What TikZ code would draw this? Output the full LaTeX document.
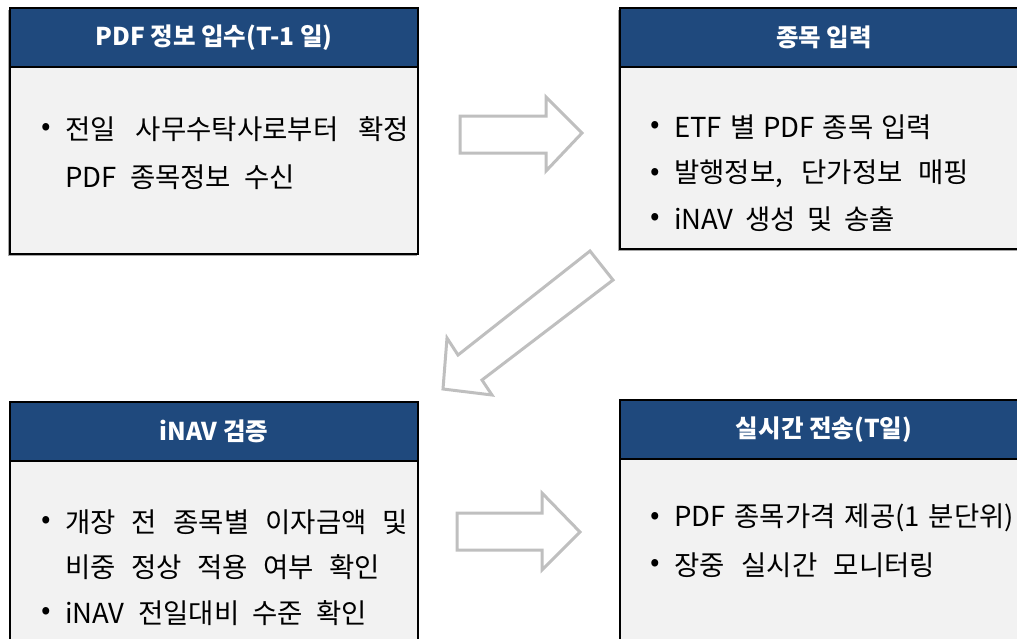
\documentclass[tikz,border=0pt]{standalone}
\usepackage{fontspec}
\setmainfont{Noto Sans CJK KR}
\definecolor{hdrblue}{HTML}{1F497D}
\definecolor{bodygray}{HTML}{F2F2F2}
\definecolor{arrowgray}{HTML}{BFBFBF}
\definecolor{shadowgray}{HTML}{A6A6A6}
\tikzset{
  panelbody/.style={rectangle, draw=black, line width=2pt, fill=bodygray, anchor=north west, inner sep=0pt, minimum width=408pt},
  panelhead/.style={rectangle, draw=black, line width=2pt, fill=hdrblue, anchor=north west, inner sep=0pt, minimum width=408pt},
  paneltitle/.style={text=white, font=\fontsize{24.5}{28}\selectfont\bfseries, inner sep=0pt},
  bodytext/.style={anchor=west, font=\fontsize{27.5}{31}\selectfont, inner sep=0pt, text=black},
  bulletmark/.style={font=\fontsize{28}{30}\selectfont, inner sep=0pt, text=black},
  blockarrow/.style={draw=arrowgray, line width=3pt, fill=white, line join=miter},
}
\begin{document}
\begin{tikzpicture}[x=1pt,y=-1pt]
\useasboundingbox (0,0) rectangle (1017,638);
% shadows
\fill[shadowgray] (8,10) rectangle (417,256);
\fill[shadowgray] (618,10) rectangle (1027,251);
% top-left panel
\node[panelbody, minimum height=246pt] (tlbody) at (9,7) {};
\node[panelhead, minimum height=59pt] (tlhead) at (9,7) {};
\node[paneltitle] (tltitle) at (tlhead.center) {PDF 정보 입수(T-1 일)};
\node[bulletmark] (tlb1) at (46,129) {•};
\node[bodytext] (tl1) at (65,129) {\makebox[344pt][s]{전일 사무수탁사로부터 확정}};
\node[bodytext] (tl2) at (65,177) {\makebox[230pt][s]{PDF 종목정보 수신}};
% top-right panel
\node[panelbody, minimum height=241pt] (trbody) at (619,7) {};
\node[panelhead, minimum height=59pt] (trhead) at (619,7) {};
\node[paneltitle] (trtitle) at (trhead.center) {종목 입력};
\node[bulletmark] (trb1) at (655,127) {•};
\node[bodytext] (tr1) at (674,127) {\makebox[258pt][s]{ETF 별 PDF 종목 입력}};
\node[bulletmark] (trb2) at (655,174) {•};
\node[bodytext] (tr2) at (674,174) {\makebox[295pt][s]{발행정보, 단가정보 매핑}};
\node[bulletmark] (trb3) at (655,219) {•};
\node[bodytext] (tr3) at (674,219) {\makebox[221pt][s]{iNAV 생성 및 송출}};
% bottom-left panel
\node[panelbody, minimum height=260pt] (blbody) at (9,401) {};
\node[panelhead, minimum height=59pt] (blhead) at (9,401) {};
\node[paneltitle] (bltitle) at (blhead.center) {iNAV 검증};
\node[bulletmark] (blb1) at (46,522) {•};
\node[bodytext] (bl1) at (65,522) {\makebox[343pt][s]{개장 전 종목별 이자금액 및}};
\node[bodytext] (bl2) at (65,567) {\makebox[315pt][s]{비중 정상 적용 여부 확인}};
\node[bulletmark] (blb3) at (46,613) {•};
\node[bodytext] (bl3) at (65,613) {\makebox[302pt][s]{iNAV 전일대비 수준 확인}};
% bottom-right panel
\node[panelbody, minimum height=262pt] (brbody) at (619,399) {};
\node[panelhead, minimum height=59pt] (brhead) at (619,399) {};
\node[paneltitle] (brtitle) at (brhead.center) {실시간 전송(T일)};
\node[bulletmark] (brb1) at (655,518) {•};
\node[bodytext] (br1) at (674,518) {\makebox[340pt][s]{PDF 종목가격 제공(1 분단위)}};
\node[bulletmark] (brb2) at (655,565) {•};
\node[bodytext] (br2) at (674,565) {\makebox[261pt][s]{장중 실시간 모니터링}};
% block arrows
\draw[blockarrow] (460,116) -- (546,116) -- (546,97) -- (582,133) -- (546,171) -- (546,153) -- (460,153) -- cycle;
\draw[blockarrow] (457,513) -- (542,513) -- (542,493) -- (580,532) -- (542,570) -- (542,550) -- (457,550) -- cycle;
\draw[blockarrow] (590,251) -- (613,280) -- (482,380) -- (492,395) -- (443,389) -- (447,338) -- (458,355) -- cycle;
\end{tikzpicture}
\end{document}
